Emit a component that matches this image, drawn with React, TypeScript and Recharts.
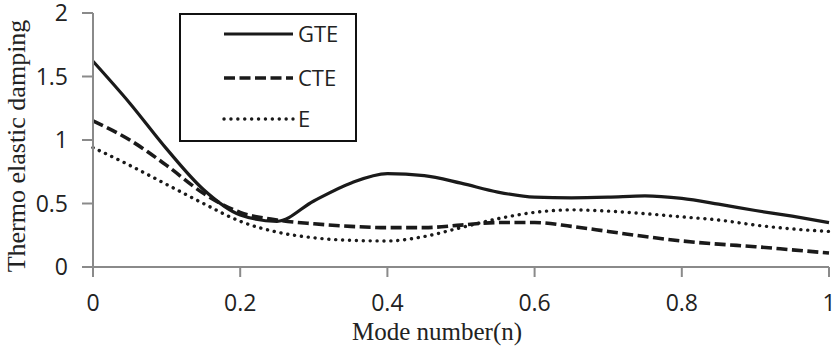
import React from 'react';
import { LineChart, Line, XAxis, YAxis } from 'recharts';

const modeNumbers = [0, 0.05, 0.1, 0.15, 0.2, 0.25, 0.3, 0.35, 0.4, 0.45, 0.5, 0.55, 0.6, 0.65, 0.7, 0.75, 0.8, 0.85, 0.9, 0.95, 1];
const gteValues = [1.62, 1.29, 0.93, 0.61, 0.41, 0.36, 0.52, 0.66, 0.735, 0.72, 0.66, 0.59, 0.55, 0.545, 0.55, 0.56, 0.54, 0.495, 0.445, 0.4, 0.35];
const cteValues = [1.15, 1.0, 0.8, 0.58, 0.43, 0.37, 0.34, 0.32, 0.31, 0.31, 0.33, 0.35, 0.35, 0.32, 0.28, 0.24, 0.205, 0.18, 0.16, 0.135, 0.11];
const eValues = [0.94, 0.8, 0.65, 0.5, 0.36, 0.275, 0.23, 0.21, 0.205, 0.24, 0.31, 0.38, 0.43, 0.45, 0.44, 0.42, 0.395, 0.37, 0.33, 0.3, 0.28];

const xTicks = [0, 0.2, 0.4, 0.6, 0.8, 1];
const yTicks = [0, 0.5, 1, 1.5, 2];
const seriesNames = ['GTE', 'CTE', 'E'];

const data = modeNumbers.map((n, i) => ({ n, GTE: gteValues[i], CTE: cteValues[i], E: eValues[i] }));

const AXIS = '#8a8a8a';
const TICK_FONT = { fontFamily: '"Open Sans", sans-serif', fontSize: 23, fill: '#222' };
const SERIF = '"Liberation Serif", "Times New Roman", serif';

const styles: Record<string, any> = {
  GTE: { strokeWidth: 3.2, strokeDasharray: undefined, strokeLinecap: 'butt' },
  CTE: { strokeWidth: 3.6, strokeDasharray: '11 4.5', strokeLinecap: 'butt' },
  E: { strokeWidth: 3.4, strokeDasharray: '0.1 6.8', strokeLinecap: 'round' },
};

const LegendBox = () => (
  <svg width={180} height={130} style={{ display: 'block' }}>
    <rect x={1} y={1} width={176} height={127} fill="#fff" stroke="#111" strokeWidth={2} />
    {seriesNames.map((name, i) => {
      const y = [21, 65, 106][i];
      const s = styles[name];
      return (
        <g key={name}>
          <line x1={45} x2={114} y1={y} y2={y} stroke="#1a1a1a" strokeWidth={s.strokeWidth} strokeDasharray={s.strokeDasharray} strokeLinecap={s.strokeLinecap} />
          <text x={119} y={y} dy="0.36em" style={{ fontFamily: '"Open Sans", sans-serif', fontSize: 22, fill: '#222' }}>{name}</text>
        </g>
      );
    })}
  </svg>
);

const YLabel = () => (
  <text x={0} y={0} transform="translate(25,146) rotate(-90)" textAnchor="middle" style={{ fontFamily: SERIF, fontSize: 26, fill: '#222' }}>
    Thermo elastic damping
  </text>
);

const XLabel = () => (
  <text x={437} y={331} dy="0.35em" textAnchor="middle" style={{ fontFamily: SERIF, fontSize: 25, fill: '#222' }}>
    Mode number(n)
  </text>
);

export default function App() {
  return (
    <div style={{ position: 'absolute', left: 0, top: 0, width: 836, height: 346, background: '#fff' }}>
      <LineChart width={836} height={346} data={data} margin={{ top: 13, right: 7, bottom: 0, left: 0 }}>
        <XAxis
          dataKey="n"
          type="number"
          domain={[0, 1]}
          ticks={xTicks}
          tickFormatter={(v: number) => String(v)}
          stroke={AXIS}
          strokeWidth={2}
          tickSize={10}
          tickMargin={18}
          height={79}
          tick={TICK_FONT}
          tickLine={{ stroke: AXIS, strokeWidth: 2 }}
          label={<XLabel />}
        />
        <YAxis
          type="number"
          domain={[0, 2]}
          ticks={yTicks}
          tickFormatter={(v: number) => String(v)}
          stroke={AXIS}
          strokeWidth={2}
          tickSize={11}
          tickMargin={14}
          width={93}
          tick={TICK_FONT}
          tickLine={{ stroke: AXIS, strokeWidth: 2 }}
          label={<YLabel />}
        />
        {seriesNames.map((name) => (
          <Line
            key={name}
            dataKey={name}
            type="monotone"
            stroke="#1a1a1a"
            strokeWidth={styles[name].strokeWidth}
            strokeDasharray={styles[name].strokeDasharray}
            strokeLinecap={styles[name].strokeLinecap}
            dot={false}
            activeDot={false}
            isAnimationActive={false}
          />
        ))}
      </LineChart>
      <div style={{ position: 'absolute', left: 179, top: 13 }}>
        <LegendBox />
      </div>
    </div>
  );
}
